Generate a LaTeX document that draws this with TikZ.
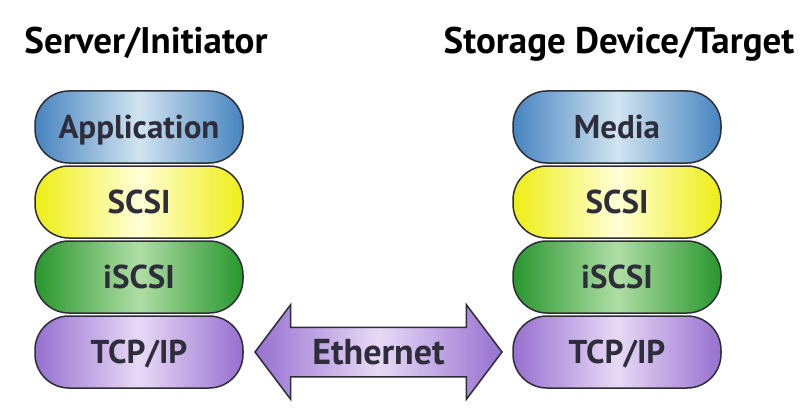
\documentclass[tikz,border=0pt]{standalone}
\usepackage{fontspec}
\setmainfont{PT Sans}
\usetikzlibrary{positioning, shapes.arrows}

\definecolor{edgegray}{RGB}{45,45,55}
\definecolor{labelgray}{RGB}{45,45,60}
\definecolor{appdark}{RGB}{70,132,192}
\definecolor{applight}{RGB}{210,228,240}
\definecolor{scsidark}{RGB}{238,238,20}
\definecolor{scsilight}{RGB}{255,255,215}
\definecolor{iscsidark}{RGB}{40,150,45}
\definecolor{iscsilight}{RGB}{175,222,165}
\definecolor{tcpdark}{RGB}{150,112,208}
\definecolor{tcplight}{RGB}{232,218,246}

\tikzset{
  layer/.style={draw=edgegray, line width=1.5pt, rounded corners=34pt,
    minimum width=208pt, minimum height=72pt, text height=23pt, text depth=0pt,
    font=\fontsize{33}{34}\selectfont\bfseries, text=labelgray},
  appfill/.style={left color=appdark, right color=appdark, middle color=applight},
  scsifill/.style={left color=scsidark, right color=scsidark, middle color=scsilight},
  iscsifill/.style={left color=iscsidark, right color=iscsidark, middle color=iscsilight},
  tcpfill/.style={left color=tcpdark, right color=tcpdark, middle color=tcplight},
  title/.style={anchor=base, font=\fontsize{37}{38}\selectfont\bfseries},
  ether/.style={double arrow, draw=edgegray, line width=1.5pt, tcpfill,
    minimum height=247pt, double arrow head extend=22.5pt, double arrow tip angle=106,
    inner ysep=11.5pt, text height=25pt, text depth=0pt,
    font=\fontsize{36}{37}\selectfont\bfseries, text=labelgray}
}

\begin{document}
\begin{tikzpicture}
	[x=1pt, y=-1pt, on grid, node distance=75pt]
   \useasboundingbox (0,0) rectangle (812,412);
   \node[title] (srv) at (146,54) {Server/Initiator};
   \node[title] (tgt) at (619,54) {Storage Device/Target};
   % initiator stack
   \node[layer, appfill] (app_l) at (139,127) {Application};
   \node[layer, scsifill] (scsi_l) [below=of app_l] {SCSI};
   \node[layer, iscsifill] (iscsi_l) [below=of scsi_l] {iSCSI};
   \node[layer, tcpfill] (tcp_l) [below=of iscsi_l] {TCP/IP};
   % target stack
   \node[layer, appfill] (media_r) at (617,127) {Media};
   \node[layer, scsifill] (scsi_r) [below=of media_r] {SCSI};
   \node[layer, iscsifill] (iscsi_r) [below=of scsi_r] {iSCSI};
   \node[layer, tcpfill] (tcp_r) [below=of iscsi_r] {TCP/IP};
   % link
   \node[ether] (eth) at (378.5,352) {Ethernet};

\end{tikzpicture}
\end{document}
